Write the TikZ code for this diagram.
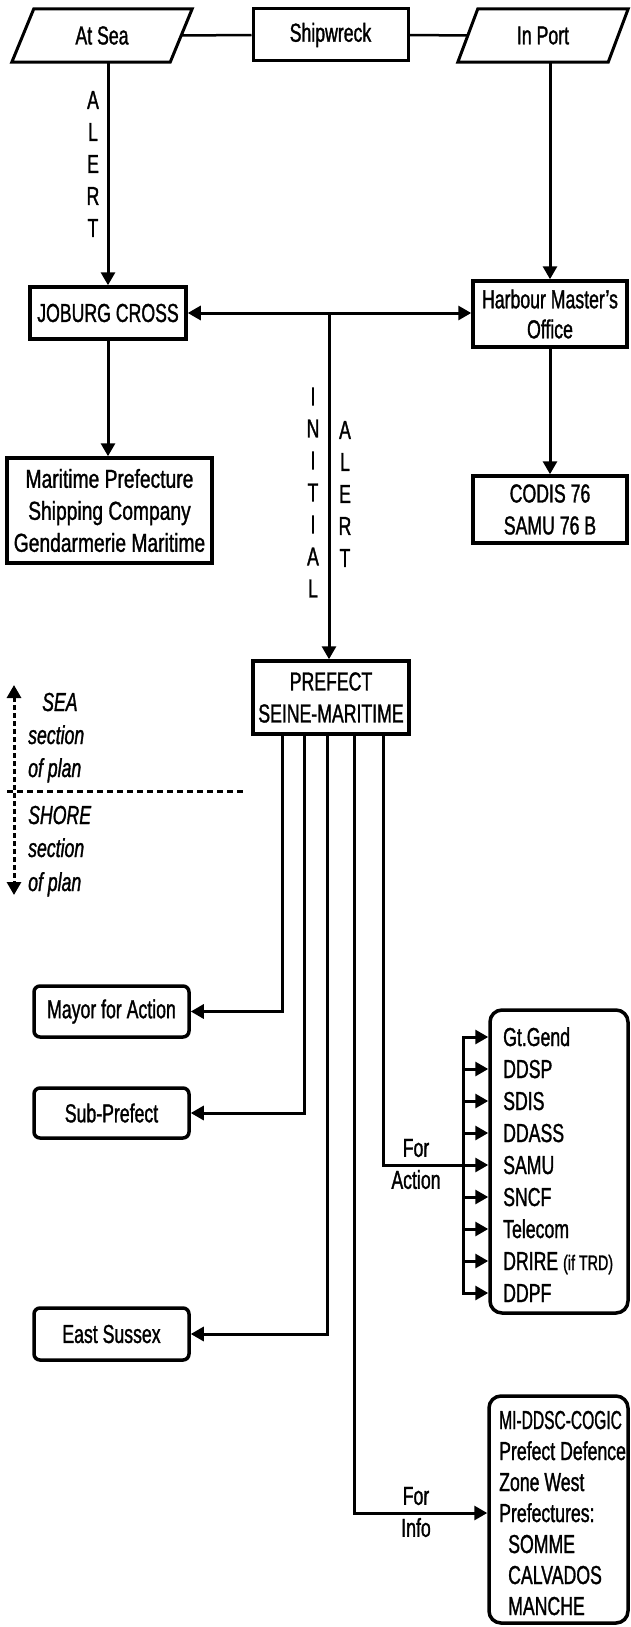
\documentclass[tikz,border=0pt]{standalone}
\usepackage{fontspec}
\usepackage{graphicx}
\setmainfont{Liberation Sans}[FakeStretch=0.68, FakeBold=1.2]
\newfontfamily\widefont{Liberation Sans}[FakeStretch=0.74, FakeBold=1.2]
\usetikzlibrary{arrows.meta,calc}
\begin{document}
\begin{tikzpicture}[x=1pt,y=1pt,
  every node/.style={font=\fontsize{26}{32}\selectfont, inner sep=0pt},
  sq/.style={draw, line width=3.5pt, align=center},
  rbox/.style={draw, line width=3.5pt, rounded corners=6pt, align=center, minimum width=155pt},
  bigbox/.style={draw, line width=3.5pt, rounded corners=12pt},
  ln/.style={line width=3pt},
  thin/.style={line width=2.5pt},
  arr/.style={line width=3pt, -{Triangle[length=13pt,width=14pt]}},
  arrb/.style={line width=3pt, {Triangle[length=13pt,width=14pt]}-{Triangle[length=13pt,width=14pt]}},
  lbl/.style={align=center},
  itm/.style={anchor=west, text height=18pt, text depth=0pt},
  legend/.style={font=\fontsize{26}{32}\selectfont\itshape, anchor=west, text height=18pt, text depth=0pt},
]
\useasboundingbox (0,0) rectangle (630,-1627);

% ---- top row
\node (atsea) [minimum width=158pt, minimum height=53pt] at (102,-35.5) {At Sea};
\draw[line width=3pt] ($(atsea.south west)+(-11,0)$) -- ($(atsea.north west)+(11,0)$) -- ($(atsea.north east)+(11,0)$) -- ($(atsea.south east)+(-11,0)$) -- cycle;
\node[sq, line width=3pt, minimum width=155pt, minimum height=52pt] (ship) at (330.5,-35) {Shipwreck};
\node (inport) [minimum width=150pt, minimum height=53pt] at (543,-35.5) {In Port};
\draw[line width=3pt] ($(inport.south west)+(-10,0)$) -- ($(inport.north west)+(10,0)$) -- ($(inport.north east)+(10,0)$) -- ($(inport.south east)+(-10,0)$) -- cycle;
\draw[thin] (atsea.east) -- (ship.west);
\draw[thin] (ship.east) -- (inport.west);

% ---- second level
\node[sq, minimum width=156pt, minimum height=52pt] (joburg) at (108,-313) {JOBURG CROSS};
\node[sq, minimum width=154pt, minimum height=66pt, font=\fontsize{26}{30}\selectfont] (harbour) at (550,-314) {Harbour Master's\\Office};
\node[lbl] (alert1) at (93,-164) {A\\L\\E\\R\\T};
\draw[arr] (atsea.south -| joburg.north) -- (joburg.north);
\draw[arr] (inport.south -| harbour.north) -- (harbour.north);
\draw[arrb] (joburg.east) -- (joburg.east -| harbour.west);

% ---- third level
\node[sq, minimum width=205pt, minimum height=105pt, font=\widefont\fontsize{26}{32}\selectfont] (mari) at (109.5,-510.5) {Maritime Prefecture\\Shipping Company\\Gendarmerie Maritime};
\node[sq, minimum width=154pt, minimum height=67pt] (codis) at (550,-509.5) {CODIS 76\\SAMU 76 B};
\draw[arr] (joburg.south) -- (joburg.south |- mari.north);
\draw[arr] (harbour.south) -- (harbour.south |- codis.north);

% ---- prefect
\node[sq, minimum width=156pt, minimum height=73pt] (prefect) at (331,-697.5) {PREFECT\\SEINE-MARITIME};
\coordinate (split) at (329,-313);
\draw[arr] (split) -- (split |- prefect.north);
\node[lbl] (initial) at (313,-492.5) {I\\N\\I\\T\\I\\A\\L};
\node[lbl] (alert2) at (345,-494) {A\\L\\E\\R\\T};

% ---- legend
\coordinate (lgtop) at (14,-685);
\coordinate (lgbot) at (14,-895);
\draw[line width=3pt, dash pattern=on 5pt off 3pt, {Triangle[length=13pt,width=14pt]}-{Triangle[length=13pt,width=14pt]}] (lgtop) -- (lgbot);
\coordinate (divl) at (7,-791);
\coordinate (divr) at (246,-791);
\draw[line width=3pt, dash pattern=on 6pt off 4pt] (divl) -- (divr);
\node[legend] (sea1) at (42,-702) {SEA};
\node[legend] (sea2) at (28,-735) {section};
\node[legend] (sea3) at (28,-768) {of plan};
\node[legend] (sho1) at (28,-815) {SHORE};
\node[legend] (sho2) at (28,-848) {section};
\node[legend] (sho3) at (28,-882) {of plan};

% ---- left boxes
\node[rbox, minimum height=51pt] (mayor) at (111.5,-1011.5) {Mayor for Action};
\node[rbox, minimum height=50pt] (sub) at (111.5,-1113) {Sub-Prefect};
\node[rbox, minimum height=52pt] (sussex) at (111.5,-1334) {East Sussex};
\draw[arr] ($(prefect.south)+(-49,0)$) |- (mayor.east);
\draw[arr] ($(prefect.south)+(-27,0)$) |- (sub.east);
\draw[arr] ($(prefect.south)+(-4,0)$) |- (sussex.east);

% ---- action box
\node[bigbox, minimum width=138pt, minimum height=303pt] (actbox) at (559,-1161.5) {};
\foreach \t [count=\i] in {Gt.Gend,DDSP,SDIS,DDASS,SAMU,SNCF,Telecom,{DRIRE {\fontsize{21}{22}\selectfont(if TRD)}},DDPF}
  \node[itm] (a\i) at (503,{-1037-32*(\i-1)}) {\t};
\coordinate (brk) at (463,-1037);
\draw[ln, line cap=rect] (a1.west -| brk) -- (a9.west -| brk);
\foreach \i in {1,...,9}
  \draw[arr] (a\i.west -| brk) -- (a\i.west -| actbox.west);
\draw[ln] ($(prefect.south)+(52,0)$) |- (a5.west -| brk);
\node[lbl] (foract) at (416,-1164) {For\\Action};

% ---- info box
\node[bigbox, minimum width=139pt, minimum height=227pt] (infobox) at (558.5,-1509.5) {};
\node[itm] (i1) at (499,-1420) {\scalebox{0.88}[1]{MI-DDSC-COGIC}};
\node[itm] (i2) at (499,-1451) {Prefect Defence};
\node[itm] (i3) at (499,-1482) {Zone West};
\node[itm] (i4) at (499,-1513) {Prefectures:};
\node[itm] (i5) at (508,-1544) {SOMME};
\node[itm] (i6) at (508,-1575) {CALVADOS};
\node[itm] (i7) at (508,-1606) {MANCHE};
\draw[arr] ($(prefect.south)+(23,0)$) |- (i4.west -| infobox.west);
\node[lbl] (forinfo) at (416,-1512) {For\\Info};
\end{tikzpicture}
\end{document}
